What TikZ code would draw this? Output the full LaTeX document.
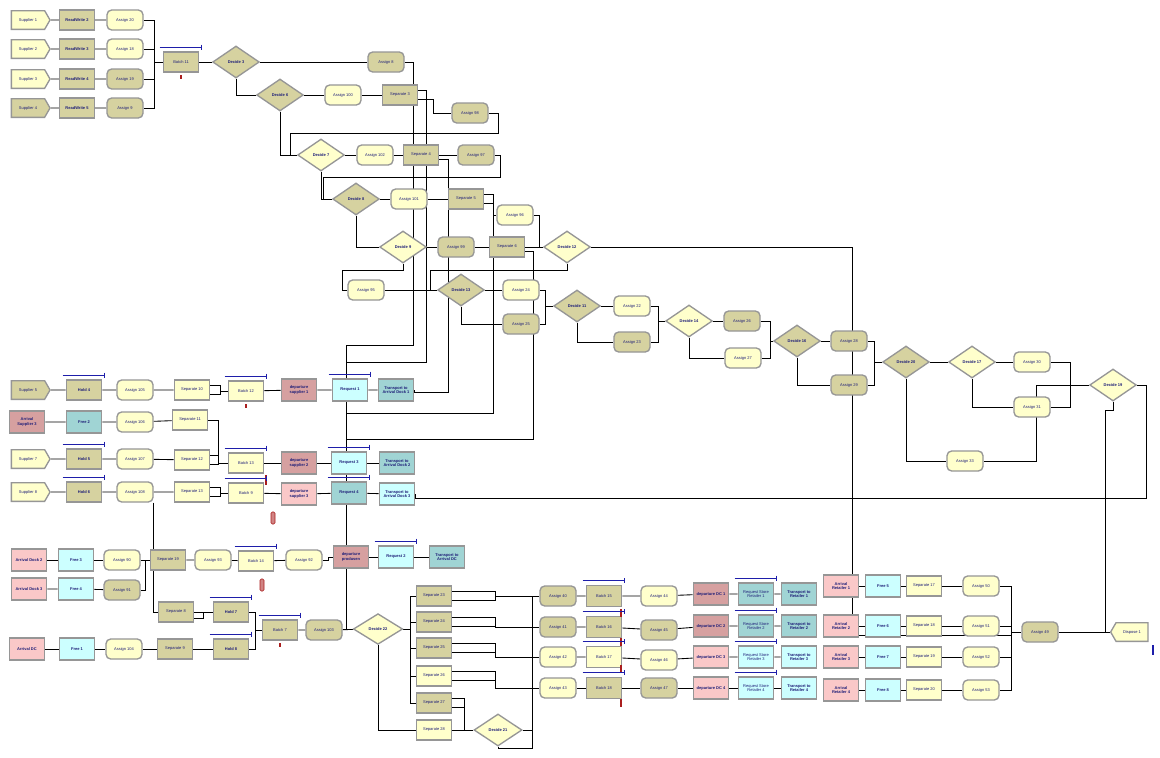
\documentclass[tikz,border=0pt]{standalone}
\usepackage{fontspec}
\setmainfont{Liberation Sans}
\usepackage{xcolor}
\usetikzlibrary{shapes.geometric, shapes.symbols, arrows.meta, positioning, calc}
\pgfdeclarelayer{bg}
\pgfsetlayers{bg,main}

\definecolor{ylw}{RGB}{255,255,204}
\definecolor{khk}{RGB}{214,210,160}
\definecolor{pnk}{RGB}{250,200,200}
\definecolor{pnkd}{RGB}{214,160,160}
\definecolor{cyn}{RGB}{204,255,255}
\definecolor{tel}{RGB}{160,212,212}
\definecolor{frm}{RGB}{150,150,150}
\definecolor{txt}{RGB}{30,30,120}
\definecolor{qblue}{RGB}{30,30,170}
\definecolor{rmk}{RGB}{170,30,30}

\begin{document}
\begin{tikzpicture}[x=0.75pt, y=-0.75pt,
  every node/.style={font=\fontsize{3}{3.4}\selectfont, text=txt,
                     align=center, inner sep=0.5pt},
  blk/.style={rectangle, draw=frm, line width=1pt,
              minimum width=26.5pt, minimum height=15pt},
  bld/.style={font=\fontsize{3}{3.4}\selectfont\bfseries},
  asg/.style={blk, rounded corners=3.5pt, minimum width=27pt},
  sta/.style={blk, bld, minimum height=16.5pt},
  crt/.style={blk, signal, signal to=east, signal pointer angle=120,
              minimum width=29pt, minimum height=14pt},
  dsp/.style={blk, signal, signal to=west, signal pointer angle=120,
              minimum width=28pt, minimum height=14pt},
  dec/.style={diamond, draw=frm, line width=1pt, inner sep=0pt,
              minimum width=35pt, minimum height=24pt, bld},
  ln/.style={line width=0.65pt, black},
  qbar/.style={draw=qblue, line width=0.8pt, -{Bar[width=4pt]}},
  rmark/.style={draw=rmk, fill=rmk!55, rounded corners=1pt, inner sep=0pt,
                minimum width=3pt, minimum height=9pt},
  rbar/.style={fill=rmk, inner sep=0pt, minimum width=1.6pt,
               minimum height=5pt}
]
\useasboundingbox (0,0) rectangle (1160,757);

% suppliers into batch 11
\foreach \i/\y/\cl in {1/20/ylw, 2/49/ylw, 3/79/ylw, 4/108/khk}{
  \node[crt, fill=\cl] (sup\i) at (28,\y) {Supplier \i};
}
\foreach \i/\y/\n in {1/20/2, 2/49/3, 3/79/4, 4/108/5}{
  \node[blk, bld, fill=khk, minimum width=26pt] (rw\i) at (77,\y) {ReadWrite \n};
}
\foreach \i/\y/\n/\cl in {1/20/20/ylw, 2/49/18/ylw, 3/79/19/khk, 4/108/9/khk}{
  \node[asg, fill=\cl] (asn\i) at (125,\y) {Assign \n};
}
\node[blk, fill=khk] (b11) at (181,62) {Batch 11};
\node[rbar, minimum height=3pt] (rt1) at (181,77) {};

% decide network
\node[dec, fill=khk] (d3) at (236,62) {Decide 3};
\node[asg, fill=khk] (as8) at (386,62) {Assign 8};
\node[dec, fill=khk] (d6) at (280,95) {Decide 6};
\node[asg, fill=ylw] (as100) at (343,95) {Assign 100};
\node[blk, fill=khk] (sep3) at (400,95) {Separate 3};
\node[asg, fill=khk] (as98) at (470,113) {Assign 98};
\node[dec, fill=ylw] (d7) at (321,155) {Decide 7};
\node[asg, fill=ylw] (as102) at (375,155) {Assign 102};
\node[blk, fill=khk] (sep4) at (421,155) {Separate 4};
\node[asg, fill=khk] (as97) at (476,155) {Assign 97};
\node[dec, fill=khk] (d8) at (356,199) {Decide 8};
\node[asg, fill=ylw] (as101) at (409,199) {Assign 101};
\node[blk, fill=khk] (sep5) at (466,199) {Separate 5};
\node[asg, fill=ylw] (as96) at (515,215) {Assign 96};
\node[dec, fill=ylw] (d9) at (403,247) {Decide 9};
\node[asg, fill=khk] (as99) at (456,247) {Assign 99};
\node[blk, fill=khk] (sep6) at (507,247) {Separate 6};
\node[dec, fill=ylw] (d12) at (567,247) {Decide 12};
\node[asg, fill=ylw] (as95) at (366,290) {Assign 95};
\node[dec, fill=khk] (d13) at (461,290) {Decide 13};
\node[asg, fill=ylw] (as24) at (521,290) {Assign 24};
\node[asg, fill=khk] (as25) at (521,324) {Assign 25};
\node[dec, fill=khk] (d11) at (577,306) {Decide 11};
\node[asg, fill=ylw] (as22) at (632,306) {Assign 22};
\node[asg, fill=khk] (as23) at (632,342) {Assign 23};
\node[dec, fill=ylw] (d14) at (689,321) {Decide 14};
\node[asg, fill=khk] (as26) at (742,321) {Assign 26};
\node[asg, fill=ylw] (as27) at (743,358) {Assign 27};
\node[dec, fill=khk] (d16) at (797,341) {Decide 16};
\node[asg, fill=khk] (as28) at (849,341) {Assign 28};
\node[asg, fill=khk] (as29) at (849,385) {Assign 29};
\node[dec, fill=khk] (d20) at (906,362) {Decide 20};
\node[dec, fill=ylw] (d17) at (972,362) {Decide 17};
\node[asg, fill=ylw] (as30) at (1032,362) {Assign 30};
\node[asg, fill=ylw] (as31) at (1032,407) {Assign 31};
\node[dec, fill=ylw] (d19) at (1113,385) {Decide 19};
\node[asg, fill=ylw] (as33) at (965,461) {Assign 33};

% supplier rows
\node[crt, fill=khk] (sup5) at (28,390) {Supplier 5};
\node[blk, bld, fill=khk] (hold4) at (84,390) {Hold 4};
\node[asg, fill=ylw] (as105) at (135,390) {Assign 105};
\node[blk, fill=ylw] (sep10) at (192,390) {Separate 10};
\node[blk, fill=ylw] (batch12) at (246,391) {Batch 12};
\node[rbar, minimum height=3pt] (rt2) at (246,406) {};
\node[sta, fill=pnkd] (dep1) at (299,390) {departure\\supplier 1};
\node[sta, fill=cyn] (req1) at (350,390) {Request 1};
\node[sta, fill=tel] (trans1) at (396,390) {Transport to\\Arrival Dock 1};
\node[sta, fill=pnkd] (arrs3) at (27,422) {Arrival\\Supplier 3};
\node[sta, fill=tel] (free2) at (84,422) {Free 2};
\node[asg, fill=ylw] (as106) at (135,422) {Assign 106};
\node[blk, fill=ylw] (sep11) at (190,420) {Separate 11};
\node[crt, fill=ylw] (sup7) at (28,459) {Supplier 7};
\node[blk, bld, fill=khk] (hold5) at (84,459) {Hold 5};
\node[asg, fill=ylw] (as107) at (135,459) {Assign 107};
\node[blk, fill=ylw] (sep12) at (192,460) {Separate 12};
\node[blk, fill=ylw] (batch13) at (246,463) {Batch 13};
\node[sta, fill=pnkd] (dep2) at (299,463) {departure\\supplier 2};
\node[sta, fill=cyn] (req3) at (349,463) {Request 3};
\node[sta, fill=tel] (trans2) at (397,463) {Transport to\\Arrival Dock 2};
\node[crt, fill=ylw] (sup8) at (28,492) {Supplier 8};
\node[blk, bld, fill=khk] (hold6) at (84,492) {Hold 6};
\node[asg, fill=ylw] (as108) at (135,492) {Assign 108};
\node[blk, fill=ylw] (sep13) at (192,492) {Separate 13};
\node[blk, fill=ylw] (batch9) at (246,493) {Batch 9};
\node[rbar, minimum height=7pt] (rt3) at (266,480) {};
\node[sta, fill=pnk] (dep3) at (299,494) {departure\\supplier 3};
\node[sta, fill=tel] (req4) at (349,493) {Request 4};
\node[sta, fill=cyn] (trans3) at (397,494) {Transport to\\Arrival Dock 3};
\node[rmark] (rm1) at (273,518) {};
\node[rmark] (rm2) at (262,585) {};

% docks and DC
\node[sta, fill=pnk] (arrd2) at (29,560) {Arrival Dock 2};
\node[sta, fill=cyn] (free3) at (76,560) {Free 3};
\node[asg, fill=ylw] (as90) at (122,560) {Assign 90};
\node[sta, fill=pnk] (arrd3) at (29,589) {Arrival Dock 3};
\node[sta, fill=cyn] (free4) at (76,589) {Free 4};
\node[asg, fill=khk] (as91) at (122,590) {Assign 91};
\node[blk, fill=khk] (sep19) at (168,560) {Separate 19};
\node[asg, fill=ylw] (as93) at (213,560) {Assign 93};
\node[blk, fill=ylw] (batch14) at (256,561) {Batch 14};
\node[asg, fill=ylw] (as92) at (304,560) {Assign 92};
\node[sta, fill=pnkd] (depp) at (351,557) {departure\\produsen};
\node[sta, fill=cyn] (req2) at (396,557) {Request 2};
\node[sta, fill=tel] (transdc) at (447,557) {Transport to\\Arrival DC};
\node[blk, fill=khk] (sep8) at (176,612) {Separate 8};
\node[blk, bld, fill=khk] (hold7) at (231,612) {Hold 7};
\node[sta, fill=pnk] (arrdc) at (27,649) {Arrival DC};
\node[sta, fill=cyn] (free1) at (77,649) {Free 1};
\node[asg, fill=ylw] (as104) at (124,649) {Assign 104};
\node[blk, fill=khk] (sep9) at (175,649) {Separate 9};
\node[blk, bld, fill=khk] (hold8) at (231,649) {Hold 8};
\node[blk, fill=khk] (batch7) at (280,630) {Batch 7};
\node[rbar, minimum height=3pt] (rt4) at (280,645) {};
\node[asg, fill=khk] (as103) at (324,630) {Assign 103};
\node[dec, fill=ylw, minimum width=37pt, minimum height=23pt] (d22) at (378,629) {Decide 22};

% split to retailers
\foreach \k/\y/\cl in {23/596/khk, 24/622/khk, 25/648/khk, 26/676/ylw,
                       27/703/khk, 28/730/ylw}{
  \node[blk, fill=\cl] (sep\k) at (434,\y) {Separate \k};
}
\node[dec, fill=ylw, minimum width=36pt, minimum height=24pt] (d21) at (498,730) {Decide 21};
\foreach \r/\y/\n/\cl in {1/596/40/khk, 2/627/41/khk, 3/657/42/ylw, 4/688/43/ylw}{
  \node[asg, fill=\cl] (ra\r) at (558,\y) {Assign \n};
}
\foreach \r/\y/\n/\cl in {1/596/15/khk, 2/627/16/khk, 3/657/17/ylw, 4/688/18/khk}{
  \node[blk, fill=\cl, minimum height=16pt] (rb\r) at (604,\y) {Batch \n};
}
\foreach \r/\y/\n/\cl in {1/596/44/ylw, 2/630/45/khk, 3/660/46/ylw, 4/688/47/khk}{
  \node[asg, fill=\cl] (rc\r) at (659,\y) {Assign \n};
}
\foreach \r/\y/\cl in {1/594/pnkd, 2/626/pnkd, 3/657/pnk, 4/688/pnk}{
  \node[sta, fill=\cl] (rd\r) at (711,\y) {departure DC \r};
}
\foreach \r/\y/\cl in {1/594/tel, 2/626/tel, 3/657/cyn, 4/688/cyn}{
  \node[sta, fill=\cl, font=\fontsize{3}{3.4}\selectfont] (re\r) at (756,\y) {Request Store\\Retailer \r};
}
\foreach \r/\y/\cl in {1/594/tel, 2/626/tel, 3/657/cyn, 4/688/cyn}{
  \node[sta, fill=\cl] (rf\r) at (799,\y) {Transport to\\Retailer \r};
}
\foreach \r/\y/\n in {1/586/5, 2/626/6, 3/657/7, 4/690/8}{
  \node[sta, fill=pnk] (rg\r) at (841,\y) {Arrival\\Retailer \r};
  \node[sta, fill=cyn] (rh\r) at (883,\y) {Free \n};
}
\foreach \r/\y/\n in {1/586/17, 2/626/18, 3/657/19, 4/690/20}{
  \node[blk, fill=ylw] (ri\r) at (924,\y) {Separate \n};
}
\foreach \r/\y/\n in {1/586/50, 2/626/51, 3/657/52, 4/690/53}{
  \node[asg, fill=ylw] (rj\r) at (981,\y) {Assign \n};
}
\foreach \r/\y in {1/613, 2/642, 3/669, 4/703}{
  \node[rbar, minimum height=6pt] (rtb\r) at (621,\y) {};
}
\node[asg, fill=khk] (as49) at (1040,632) {Assign 49};
\node[dsp, fill=ylw] (disp) at (1132,632) {Dispose 1};
\node[fill=qblue, inner sep=0pt, minimum width=1.6pt, minimum height=8pt] (dmk) at (1153,650) {};

% queues
\foreach \n in {b11, hold4, batch12, req1, hold5, batch13, req3, hold6,
                batch9, req4, batch14, req2, hold7, hold8, batch7,
                rb1, rb2, rb3, rb4, re1, re2, re3, re4}{
  \draw[qbar] ($(\n.north west)+(-3,-4)$) -- ($(\n.north east)+(3,-4)$);
}

% junctions
\coordinate (mg) at (154,62);
\coordinate (busa) at (346,345);
\coordinate (busb) at (346,362);
\coordinate (busc) at (346,413);
\coordinate (busd) at (346,439);
\coordinate (r2top) at (852,614);
\coordinate (j11) at (545,306);
\coordinate (j14) at (658,321);
\coordinate (j16) at (770,341);
\coordinate (j20) at (874,362);
\coordinate (c410) at (410,0);
\coordinate (j21) at (464,730);
\coordinate (jr) at (532,596);
\coordinate (jm) at (1011,632);
\coordinate (jd) at (1105,632);
\coordinate (rr) at (823,635);

\begin{pgfonlayer}{bg}
\fill[white] (0,0) rectangle (1160,757);
\foreach \i in {1,...,4}{
  \draw[ln] (sup\i) -- (rw\i) -- (asn\i);
  \draw[ln] (asn\i.east) -| (mg);
}
\draw[ln] (mg) -- (b11) -- (d3) -- (as8);
\draw[ln] (as8.east) -| (413,345) -- (busa);
\draw[ln] (busa) |- (d22.west);
\draw[ln] (d3.south) |- (d6.west);
\draw[ln] (d6) -- (as100) -- (sep3);
\draw[ln] (sep3.15) -| (426,362) -- (busb);
\draw[ln] (sep3.-15) -| (433,113) -- (as98.west);
\draw[ln] (as98.east) -| (498,133) -| (290,155) -- (d7.west);
\draw[ln] (d6.south) |- (d7.west);
\draw[ln] (d7) -- (as102) -- (sep4) -- (as97);
\draw[ln] (sep4.-15) -| (448,392) -| (trans1.east);
\draw[ln] (as97.east) -| (500,177) -| (323,199) -- (d8.west);
\draw[ln] (d7.south) |- (d8.west);
\draw[ln] (d8) -- (as101) -- (sep5);
\draw[ln] (sep5.15) -| (493,413) -- (busc);
\draw[ln] (sep5.-15) -| (493,215) -- (as96.west);
\draw[ln] (as96.east) -| (539,247) -- (d12.west);
\draw[ln] (d8.south) |- (d9.west);
\draw[ln] (d9) -- (as99) -- (sep6) -- (d12);
\draw[ln] (sep6.-15) -| (533,439) -- (busd);
\draw[ln] (d12.east) -| (r2top);
\draw[ln] (d9.south) |- (342,270) |- (as95.west);
\draw[ln] (d12.south) |- (430,270) |- (d13.west);
\draw[ln] (as95) -- (d13) -- (as24);
\draw[ln] (d13.south) |- (as25.west);
\draw[ln] (as24.east) -| (545,324) -- (as25.east);
\draw[ln] (j11) -- (d11.west);
\draw[ln] (d11) -- (as22);
\draw[ln] (d11.south) |- (as23.west);
\draw[ln] (as22.east) -| (658,342) -- (as23.east);
\draw[ln] (j14) -- (d14.west);
\draw[ln] (d14) -- (as26);
\draw[ln] (d14.south) |- (as27.west);
\draw[ln] (as26.east) -| (770,358) -- (as27.east);
\draw[ln] (j16) -- (d16.west);
\draw[ln] (d16) -- (as28);
\draw[ln] (d16.south) |- (as29.west);
\draw[ln] (as28.east) -| (874,385) -- (as29.east);
\draw[ln] (j20) -- (d20.west);
\draw[ln] (d20) -- (d17) -- (as30);
\draw[ln] (d20.south) |- (as33.west);
\draw[ln] (d17.south) |- (as31.west);
\draw[ln] (as30.east) -| (1070,407) -- (as31.east);
\draw[ln] (as33.east) -| (1036,385) -- (d19.west);
\draw[ln] (d19.east) -| (1146,498) -| (trans3.east);
\draw[ln] (d19.south) -- ++(0,9) -| (jd);
% supplier rows
\draw[ln] (sup5) -- (hold4) -- (as105) -- (sep10);
\draw[ln] (sep10.15) -| (220,391) -- (batch12.west);
\draw[ln] (sep10.-15) -| (220,391);
\draw[ln] (batch12) -- (dep1) -- (req1) -- (trans1);
\draw[ln] (arrs3) -- (free2) -- (as106) -- (sep11);
\draw[ln] (sep11.east) -| (218,463) -- (batch13.west);
\draw[ln] (sup7) -- (hold5) -- (as107) -- (sep12);
\draw[ln] (sep12.15) -| (218,463);
\draw[ln] (sep12.-15) -| (218,463);
\draw[ln] (batch13) -- (dep2) -- (req3) -- (trans2);
\draw[ln] (sup8) -- (hold6) -- (as108) -- (sep13);
\draw[ln] (sep13.15) -| (220,493) -- (batch9.west);
\draw[ln] (sep13.-15) -| (220,493);
\draw[ln] (batch9) -- (dep3) -- (req4) -- (trans3);
\draw[ln] (as108.south east) |- (sep8.west);
% docks and DC
\draw[ln] (arrd2) -- (free3) -- (as90) -- (sep19);
\draw[ln] (arrd3) -- (free4) -- (as91);
\draw[ln] (as91.east) -| (145,560);
\draw[ln] (sep19) -- (as93) -- (batch14) -- (as92);
\draw[ln] (as92.east) -- ++(6,0) |- (depp.west);
\draw[ln] (depp) -- (req2) -- (transdc);
\draw[ln] (arrdc) -- (free1) -- (as104) -- (sep9) -- (hold8);
\draw[ln] (sep8) -- (hold7);
\draw[ln] (sep8.-20) -| (203,612);
\draw[ln] (hold7.east) -| (255,630) -- (batch7.west);
\draw[ln] (hold8.east) -| (255,630);
\draw[ln] (batch7) -- (as103) -- (d22);
% split to retailers
\draw[ln] (d22.east) -- (c410 |- d22.east);
\draw[ln] (c410 |- sep23.west) -- (c410 |- sep27.west);
\foreach \k in {23,...,27}{
  \draw[ln] (c410 |- sep\k.west) -- (sep\k.west);
}
\draw[ln] (d22.south) |- (sep28.west);
\foreach \k/\r in {23/1, 24/2, 25/3, 26/4}{
  \draw[ln] (sep\k.15) -| ($(ra\r.west)+(-44,0)$) -- (ra\r.west);
  \draw[ln] (sep\k.-15) -| ($(ra\r.west)+(-44,0)$);
}
\draw[ln] (sep27.15) -| (j21);
\draw[ln] (sep27.-15) -| (j21);
\draw[ln] (sep28) -- (d21);
\draw[ln] (d21.east) -| (jr);
\draw[ln] (d21.south) |- (532,748) -- (532,730);
\foreach \r in {1,...,4}{
  \draw[ln] (ra\r) -- (rb\r) -- (rc\r) -- (rd\r) -- (re\r) -- (rf\r);
  \draw[ln] (rg\r) -- (rh\r) -- (ri\r) -- (rj\r);
  \draw[ln] (rj\r.east) -| (jm);
}
\draw[ln] (rr) -| (jm);
\draw[ln] (jm) -- (as49) -- (disp);
\end{pgfonlayer}
\end{tikzpicture}
\end{document}
